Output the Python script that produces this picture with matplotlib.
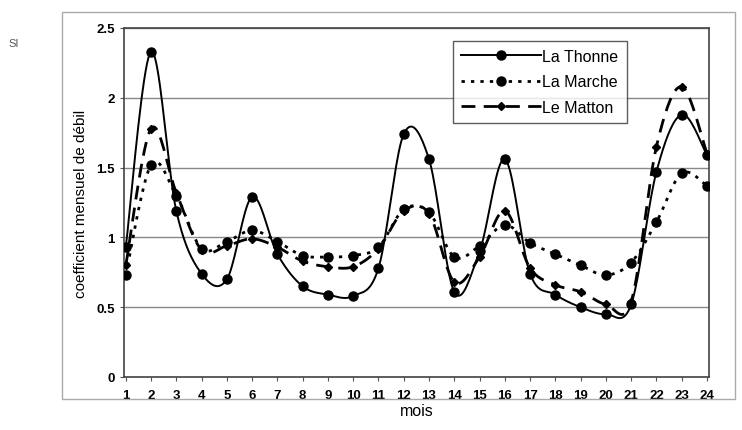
import numpy as np
import matplotlib
matplotlib.use("Agg")
import matplotlib.pyplot as plt
from matplotlib.lines import Line2D

plt.rcParams['font.family'] = ['Liberation Sans', 'DejaVu Sans']

# Données
mois = list(range(1, 25))
thonne = [0.93, 2.33, 1.19, 0.74, 0.70, 1.29, 0.88, 0.65, 0.59, 0.58, 0.78, 1.74,
          1.56, 0.61, 0.90, 1.56, 0.74, 0.59, 0.50, 0.45, 0.52, 1.47, 1.88, 1.59]
marche = [0.73, 1.52, 1.30, 0.92, 0.97, 1.05, 0.97, 0.87, 0.86, 0.87, 0.93, 1.20,
          1.18, 0.86, 0.94, 1.09, 0.96, 0.88, 0.80, 0.73, 0.82, 1.11, 1.46, 1.37]
matton = [0.80, 1.78, 1.32, 0.91, 0.94, 0.99, 0.93, 0.83, 0.79, 0.79, 0.92, 1.19,
          1.17, 0.68, 0.86, 1.19, 0.78, 0.66, 0.61, 0.52, 0.54, 1.65, 2.08, 1.60]
series = [("La Thonne", thonne), ("La Marche", marche), ("Le Matton", matton)]


def lissage(x, y, n=20):
    # courbe lissée type Excel (Catmull-Rom)
    x = np.asarray(x, float)
    y = np.asarray(y, float)
    px = np.concatenate([[x[0]], x, [x[-1]]])
    py = np.concatenate([[y[0]], y, [y[-1]]])
    xs, ys = [], []
    t = np.linspace(0, 1, n, endpoint=False)
    for i in range(1, len(px) - 2):
        p0, p1, p2, p3 = [np.array([px[j], py[j]]) for j in (i - 1, i, i + 1, i + 2)]
        for tt in t:
            pt = 0.5 * ((2 * p1) + (-p0 + p2) * tt + (2 * p0 - 5 * p1 + 4 * p2 - p3) * tt ** 2
                        + (-p0 + 3 * p1 - 3 * p2 + p3) * tt ** 3)
            xs.append(pt[0])
            ys.append(pt[1])
    xs.append(x[-1])
    ys.append(y[-1])
    return np.array(xs), np.array(ys)


fig = plt.figure(figsize=(7.42, 4.31), dpi=100)
ax = fig.add_axes([124 / 742, 1 - 378 / 431, (709 - 124) / 742, (378 - 29) / 431])

styles = {
    "La Thonne": dict(ls="-", marker="o", ms=6.5, lw=1.4),
    "La Marche": dict(ls=(0, (1.2, 2.2)), marker="o", ms=6.5, lw=2.0),
    "Le Matton": dict(ls=(0, (5, 3)), marker="D", ms=4, lw=2.0),
}

for nom, vals in series:
    st = styles[nom]
    xs, ys = lissage(mois, vals)
    ax.plot(xs, ys, color="black", lw=st["lw"], ls=st["ls"], zorder=3)
    ax.plot(mois, vals, ls="none", marker=st["marker"], ms=st["ms"], color="black", zorder=4)

ax.set_xlim(0.93, 24.08)
ax.set_ylim(0, 2.5)
ax.set_xticks(mois)
ax.set_yticks([0, 0.5, 1, 1.5, 2, 2.5])
ax.set_yticklabels(["0", "0.5", "1", "1.5", "2", "2.5"])
ax.yaxis.grid(True, color="#888888", lw=1)
ax.set_axisbelow(True)
ax.tick_params(axis="both", labelsize=9.5, length=3, direction="out", color="#555555")
ax.tick_params(axis="x", pad=6)
for lab in ax.get_xticklabels() + ax.get_yticklabels():
    lab.set_fontweight("bold")
for s in ax.spines.values():
    s.set_color("#444444")
    s.set_linewidth(1.2)

ax.set_ylabel("coefficient mensuel de débil", fontsize=11, labelpad=6)
ax.set_xlabel("mois", fontsize=11.5, labelpad=1)

handles = [
    Line2D([], [], color="black", lw=st["lw"], ls=st["ls"], marker=st["marker"], ms=st["ms"])
    for st in styles.values()
]
leg = ax.legend(handles, [n for n, _ in series], loc="upper left",
                bbox_to_anchor=((453 - 124) / 585, 1 - (42 - 29) / 349),
                fontsize=11.5, frameon=True, fancybox=False, handlelength=5,
                borderpad=0.5, labelspacing=0.65, handletextpad=0.1, borderaxespad=0)
leg.get_frame().set_edgecolor("#333333")
leg.get_frame().set_linewidth(1)

# cadre extérieur du graphique
fig.patches.append(plt.Rectangle((62 / 742, 1 - 400 / 431), 0.99 - 62 / 742, (400 - 13) / 431,
                                 transform=fig.transFigure, fill=False, ec="#aaaaaa", lw=1))
fig.text(8 / 742, 1 - 47 / 431, "SI", fontsize=8, color="#555555")

fig.savefig("out.png", dpi=100)
